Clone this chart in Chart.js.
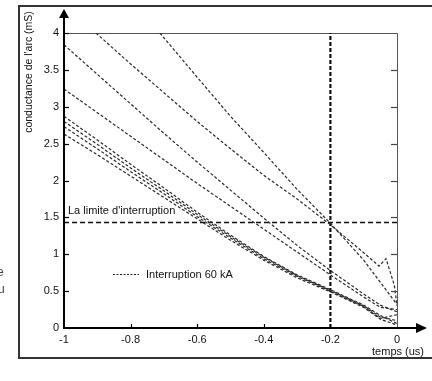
<!DOCTYPE html>
<html><head><meta charset="utf-8">
<script src="https://cdn.jsdelivr.net/npm/chart.js@4.4.0/dist/chart.umd.min.js"></script>
<style>html,body{margin:0;padding:0;background:#fff;overflow:hidden}</style>
</head><body>
<canvas id="c" width="432" height="381"></canvas>
<script>
// ---- data ----
const gridX = [-1, -0.9, -0.8, -0.7, -0.6, -0.5, -0.4, -0.3, -0.2, -0.1, -0.05, 0];
const curveAX = [-0.904, -0.8, -0.7, -0.6, -0.5, -0.4, -0.3, -0.2, -0.1, -0.054, -0.033, -0.008, 0];
const curveAY = [4.0, 3.58, 3.19, 2.80, 2.43, 2.07, 1.75, 1.40, 1.02, 0.84, 0.94, 0.58, 0.30];
const curveBX = [-0.712, -0.6, -0.5, -0.4, -0.3, -0.2, -0.1, -0.05, 0];
const curveBY = [4.0, 3.40, 2.87, 2.38, 1.88, 1.42, 0.92, 0.62, 0.32];
const curveCY = [3.84, 3.44, 3.04, 2.64, 2.25, 1.87, 1.49, 1.12, 0.78, 0.46, 0.31, 0.22];
const curveDY = [3.24, 2.92, 2.60, 2.28, 1.96, 1.65, 1.34, 1.03, 0.72, 0.42, 0.28, 0.25];
const curveEY = [2.87, 2.55, 2.22, 1.90, 1.57, 1.26, 0.97, 0.72, 0.52, 0.31, 0.17, 0.06];
const curveFY = [2.80, 2.49, 2.17, 1.86, 1.54, 1.24, 0.96, 0.71, 0.51, 0.30, 0.15, 0.10];
const curveGY = [2.73, 2.43, 2.12, 1.82, 1.51, 1.22, 0.94, 0.70, 0.50, 0.29, 0.13, 0.18];
const curveHY = [2.63, 2.35, 2.06, 1.77, 1.48, 1.19, 0.92, 0.68, 0.49, 0.28, 0.12, 0.04];
const limitY = 1.43;          // "La limite d'interruption"
const limitX = -0.2;          // vertical marker
const xTickValues = [-1, -0.8, -0.6, -0.4, -0.2, 0];
const xTickLabels = ['-1', '-0.8', '-0.6', '-0.4', '-0.2', '0'];
const yTickValues = [0, 0.5, 1, 1.5, 2, 2.5, 3, 3.5, 4];
const yTickLabels = ['0', '0.5', '1', '1.5', '2', '2.5', '3', '3.5', '4'];
const yTitle = "conductance de l'arc (mS)";
const xTitle = 'temps (us)';
const limitText = "La limite d'interruption";
const legendText = 'Interruption 60 kA';

const FONT = '"Liberation Sans", Arial, sans-serif';
const pts = (xs, ys) => xs.map((x, i) => ({x: x, y: ys[i]}));
const curve = (data) => ({data, borderColor: '#2a2a2a', borderWidth: 1.2, borderDash: [3, 2],
  pointRadius: 0, fill: false, tension: 0, showLine: true});

const datasets = [
  curve(pts(curveAX, curveAY)),
  curve(pts(curveBX, curveBY)),
  curve(pts(gridX, curveCY)),
  curve(pts(gridX, curveDY)),
  curve(pts(gridX, curveEY)),
  curve(pts(gridX, curveFY)),
  curve(pts(gridX, curveGY)),
  curve(pts(gridX, curveHY)),
  {data: [{x: -1, y: limitY}, {x: 0, y: limitY}], borderColor: '#111', borderWidth: 1.6,
   borderDash: [5, 3], pointRadius: 0, showLine: true},
  {data: [{x: limitX, y: 0}, {x: limitX, y: 4}], borderColor: '#111', borderWidth: 2.2,
   borderDash: [4, 2], pointRadius: 0, showLine: true}
];

const deco = {
  id: 'deco',
  beforeDatasetsDraw(chart) {
    const ctx = chart.ctx, a = chart.chartArea;
    ctx.save();
    // outer frame
    ctx.strokeStyle = '#333'; ctx.lineWidth = 2;
    ctx.strokeRect(19, 6, 430, 352);
    // plot box top & right
    ctx.strokeStyle = '#555'; ctx.lineWidth = 1;
    ctx.beginPath();
    ctx.moveTo(a.left, a.top + 0.5); ctx.lineTo(a.right + 0.5, a.top + 0.5);
    ctx.lineTo(a.right + 0.5, a.bottom);
    ctx.stroke();
    ctx.restore();
  },
  afterDraw(chart) {
    const ctx = chart.ctx, a = chart.chartArea;
    const xs = chart.scales.x, ys = chart.scales.y;
    ctx.save();
    ctx.strokeStyle = '#000'; ctx.fillStyle = '#000'; ctx.lineWidth = 2;
    // y axis with arrow
    ctx.beginPath(); ctx.moveTo(a.left, a.bottom + 1); ctx.lineTo(a.left, 17); ctx.stroke();
    ctx.beginPath(); ctx.moveTo(a.left, 9); ctx.lineTo(a.left - 5, 18); ctx.lineTo(a.left + 5, 18); ctx.closePath(); ctx.fill();
    // x axis with arrow
    ctx.beginPath(); ctx.moveTo(a.left - 1, a.bottom); ctx.lineTo(417, a.bottom); ctx.stroke();
    ctx.beginPath(); ctx.moveTo(427, a.bottom); ctx.lineTo(416, a.bottom - 5); ctx.lineTo(416, a.bottom + 5); ctx.closePath(); ctx.fill();
    // inward ticks
    ctx.lineWidth = 1.2;
    yTickValues.forEach(v => {
      const p = Math.round(ys.getPixelForValue(v)) + 0.5;
      if (v > 0) { ctx.beginPath(); ctx.moveTo(a.left, p); ctx.lineTo(a.left + 5, p); ctx.stroke(); }
      ctx.strokeStyle = '#444';
      if (v > 0 && v < 4) { ctx.beginPath(); ctx.moveTo(a.right, p); ctx.lineTo(a.right - 6, p); ctx.stroke(); }
      ctx.strokeStyle = '#000';
    });
    xTickValues.forEach(v => {
      if (v <= -1 || v >= 0) return;
      const p = Math.round(xs.getPixelForValue(v)) + 0.5;
      ctx.beginPath(); ctx.moveTo(p, a.bottom); ctx.lineTo(p, a.bottom - 4); ctx.stroke();
    });
    // texts
    ctx.fillStyle = '#111';
    ctx.font = '11px ' + FONT;
    ctx.textBaseline = 'alphabetic'; ctx.textAlign = 'left';
    ctx.fillText(limitText, 68, 214);
    ctx.fillText(legendText, 146, 278);
    ctx.strokeStyle = '#222'; ctx.lineWidth = 1; ctx.setLineDash([2, 1.5]);
    ctx.beginPath(); ctx.moveTo(113, 274.5); ctx.lineTo(139, 274.5); ctx.stroke();
    ctx.setLineDash([]);
    ctx.textAlign = 'right';
    ctx.fillText(xTitle, 424, 355);
    // y title rotated
    ctx.save();
    ctx.translate(29, 72); ctx.rotate(-Math.PI / 2);
    ctx.textAlign = 'center'; ctx.textBaseline = 'middle';
    ctx.font = '10.5px ' + FONT;
    ctx.fillText(yTitle, 0, 0);
    ctx.restore();
    // stray cropped letters at far left
    ctx.fillStyle = '#444'; ctx.font = '12px ' + FONT; ctx.textAlign = 'left';
    ctx.fillText('e', -3, 276);
    ctx.fillText('u', -2, 293);
    ctx.restore();
  }
};

new Chart(document.getElementById('c'), {
  type: 'scatter',
  data: {datasets},
  options: {
    responsive: false, animation: false, devicePixelRatio: 1,
    layout: {padding: {top: 33, right: 35, left: 0, bottom: 0}},
    plugins: {legend: {display: false}, tooltip: {enabled: false}},
    scales: {
      x: {type: 'linear', min: -1, max: 0,
        afterFit: s => { s.height = 53; },
        afterBuildTicks: s => { s.ticks = xTickValues.map(v => ({value: v})); },
        grid: {display: false, drawTicks: false}, border: {display: false},
        ticks: {font: {family: FONT, size: 11}, color: '#111', padding: 5, maxRotation: 0, autoSkip: false,
          callback: (v, i) => xTickLabels[i]}},
      y: {type: 'linear', min: 0, max: 4,
        afterFit: s => { s.width = 64; },
        afterBuildTicks: s => { s.ticks = yTickValues.map(v => ({value: v})); },
        grid: {display: false, drawTicks: false}, border: {display: false},
        ticks: {font: {family: FONT, size: 11}, color: '#111', padding: 5, autoSkip: false,
          callback: (v, i) => yTickLabels[i]}}
    }
  },
  plugins: [deco]
});
</script>
</body></html>
